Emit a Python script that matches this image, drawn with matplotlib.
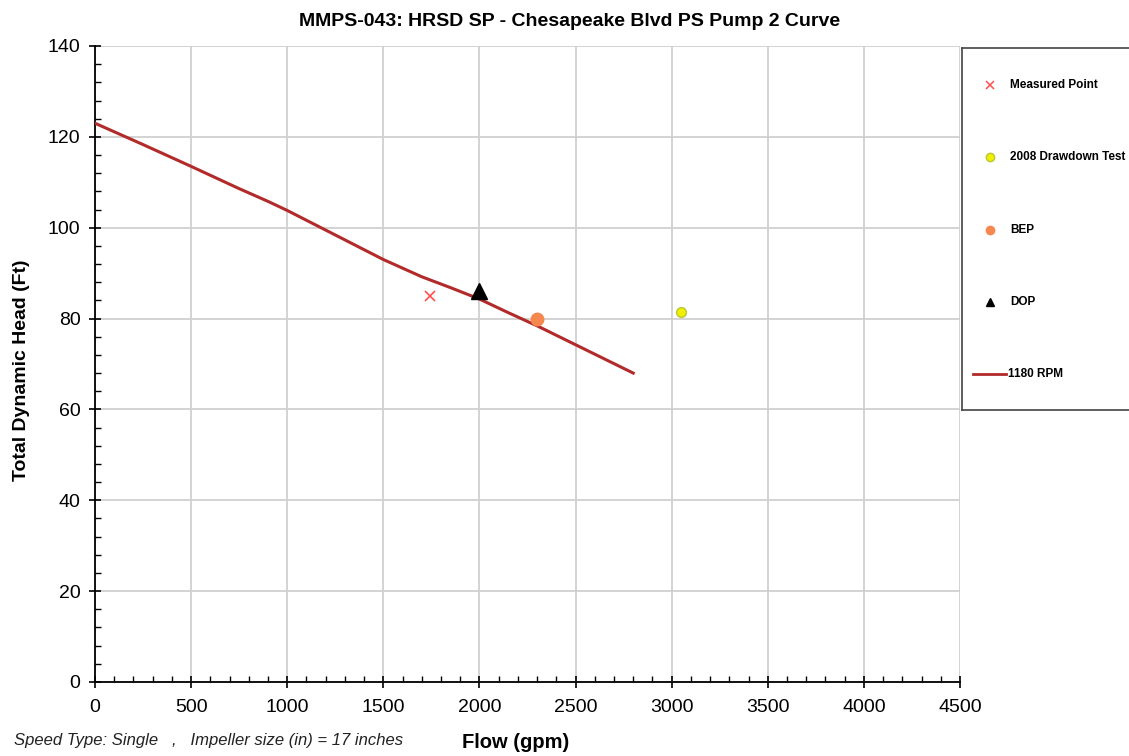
import matplotlib
matplotlib.use("Agg")
import matplotlib.pyplot as plt
from matplotlib.ticker import MultipleLocator

plt.rcParams['font.family'] = ['Liberation Sans', 'DejaVu Sans']

# Data
curve_flow = [0, 250, 500, 750, 900, 1000, 1250, 1500, 1700, 1850, 2000, 2150, 2300, 2550, 2800]
curve_head = [123, 118.3, 113.5, 108.6, 105.8, 103.8, 98.4, 93.0, 89.2, 86.8, 84.3, 81.3, 78.4, 73.2, 68.0]
measured_flow, measured_head = [1745], [85]
drawdown_flow, drawdown_head = [3050], [81.5]
bep_flow, bep_head = [2300], [80]
dop_flow, dop_head = [2000], [86]

title = "MMPS-043: HRSD SP - Chesapeake Blvd PS Pump 2 Curve"
legend_labels = ["Measured Point", "2008 Drawdown Test", "BEP", "DOP", "1180 RPM"]

W, H = 1129, 756
fig = plt.figure(figsize=(W / 100, H / 100), dpi=100)
ax = fig.add_axes([95 / W, 1 - 682 / H, (960 - 95) / W, (682 - 46) / H])

curve_color = '#b22a2a'
ax.plot(curve_flow, curve_head, color=curve_color, lw=2.2, zorder=3)
ax.plot(measured_flow, measured_head, 'x', color='#ff5050', ms=7, mew=1.2, zorder=4)
ax.plot(drawdown_flow, drawdown_head, 'o', color='#f0f000', mec='#b8c830', ms=7, zorder=4)
ax.plot(bep_flow, bep_head, 'o', color='#f5874f', mec='#f5874f', ms=9, zorder=4)
ax.plot(dop_flow, dop_head, '^', color='black', ms=11, zorder=5)

ax.set_xlim(0, 4500)
ax.set_ylim(0, 140)
ax.xaxis.set_major_locator(MultipleLocator(500))
ax.xaxis.set_minor_locator(MultipleLocator(100))
ax.yaxis.set_major_locator(MultipleLocator(20))
ax.yaxis.set_minor_locator(MultipleLocator(4))
ax.grid(True, which='major', color='#d0d0d0', lw=1.3)
ax.set_axisbelow(True)
for s in ['top', 'right']:
    ax.spines[s].set_visible(False)
for s in ['left', 'bottom']:
    ax.spines[s].set_linewidth(1.3)
ax.tick_params(axis='both', which='major', direction='inout', length=9, width=1.2, labelsize=14)
ax.tick_params(axis='both', which='minor', direction='in', length=4, width=1)
ax.tick_params(axis='x', pad=8)
ax.tick_params(axis='y', pad=6)

fig.text(516 / W, 1 - 742 / H, "Flow (gpm)", ha='center', va='center',
         fontsize=14.5, fontweight='bold')
fig.text(22 / W, 1 - 370 / H, "Total Dynamic Head (Ft)", ha='center', va='center',
         rotation=90, fontsize=14, fontweight='bold')
fig.text(570 / W, 1 - 21 / H, title, ha='center', va='center',
         fontsize=14, fontweight='bold')
fig.text(14 / W, 1 - 741 / H, "Speed Type: Single   ,   Impeller size (in) = 17 inches",
         ha='left', va='center', fontsize=12, style='italic', color='#222222')

# Legend box
lax = fig.add_axes([962 / W, 1 - 410 / H, (1135 - 962) / W, (410 - 48) / H])
lax.set_xlim(962, 1135)
lax.set_ylim(410, 48)
lax.set_xticks([])
lax.set_yticks([])
for s in lax.spines.values():
    s.set_color('#444444')
    s.set_linewidth(1.2)
ys = [85, 157, 230, 302, 374]
lax.plot([990], [ys[0]], 'x', color='#ff5050', ms=6, mew=1.1)
lax.plot([990], [ys[1]], 'o', color='#f0f000', mec='#b8c830', ms=6)
lax.plot([990], [ys[2]], 'o', color='#f5874f', mec='#f5874f', ms=6)
lax.plot([990], [ys[3]], '^', color='black', ms=6)
lax.plot([973, 1006], [ys[4], ys[4]], color=curve_color, lw=2)
for i, (y, lab) in enumerate(zip(ys, legend_labels)):
    x = 1010 if i < 4 else 1008
    lax.text(x, y, lab, ha='left', va='center', fontsize=8.5, fontweight='bold')

fig.savefig("out.png", dpi=100)
